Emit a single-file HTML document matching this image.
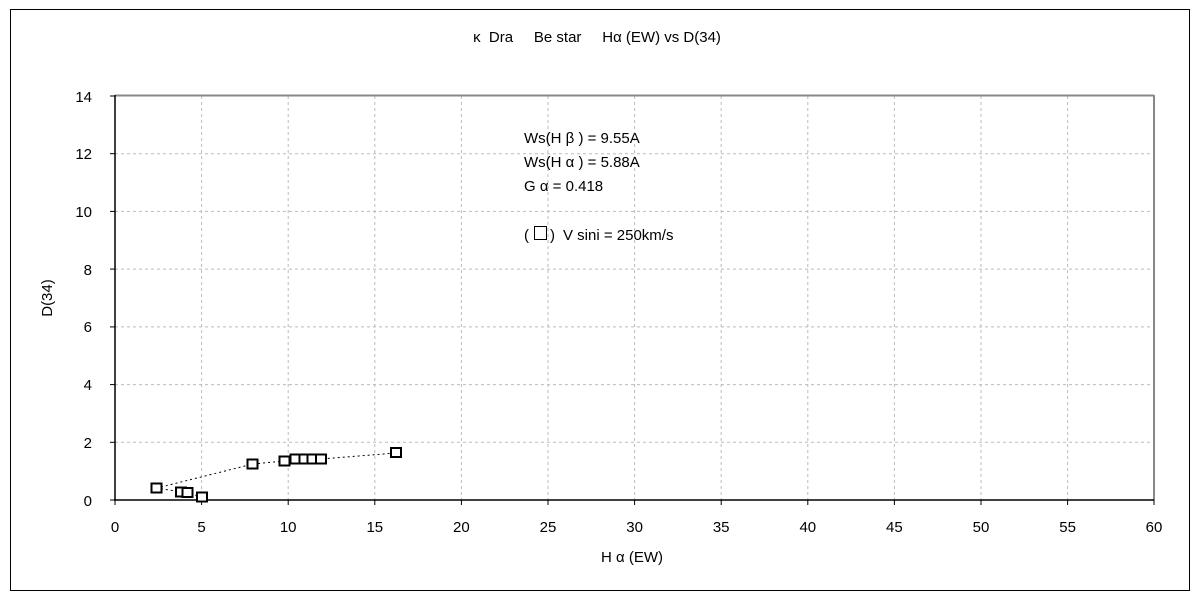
<!DOCTYPE html>
<html><head><meta charset="utf-8"><style>
html,body{margin:0;padding:0;background:#fff;}
svg{display:block;font-family:"Liberation Sans","Noto Sans CJK JP",sans-serif;}
text{white-space:pre;}
</style></head><body>
<svg width="1200" height="600" xmlns="http://www.w3.org/2000/svg">
<rect x="10.5" y="9.5" width="1179" height="581" fill="#fff" stroke="#000" stroke-width="1"/>
<text x="597" y="42" font-size="15" text-anchor="middle" fill="#000" xml:space="preserve">κ  Dra     Be star     Hα (EW) vs D(34)</text>
<g stroke="#bbb" stroke-width="1" stroke-dasharray="3,3">
<line x1="201.6" y1="96" x2="201.6" y2="500"/><line x1="288.2" y1="96" x2="288.2" y2="500"/>
<line x1="374.8" y1="96" x2="374.8" y2="500"/><line x1="461.4" y1="96" x2="461.4" y2="500"/>
<line x1="548" y1="96" x2="548" y2="500"/><line x1="634.6" y1="96" x2="634.6" y2="500"/>
<line x1="721.2" y1="96" x2="721.2" y2="500"/><line x1="807.8" y1="96" x2="807.8" y2="500"/>
<line x1="894.4" y1="96" x2="894.4" y2="500"/><line x1="981" y1="96" x2="981" y2="500"/>
<line x1="1067.6" y1="96" x2="1067.6" y2="500"/>
<line x1="115" y1="442.3" x2="1154" y2="442.3"/><line x1="115" y1="384.6" x2="1154" y2="384.6"/>
<line x1="115" y1="326.9" x2="1154" y2="326.9"/><line x1="115" y1="269.1" x2="1154" y2="269.1"/>
<line x1="115" y1="211.4" x2="1154" y2="211.4"/><line x1="115" y1="153.7" x2="1154" y2="153.7"/>
</g>
<line x1="115" y1="95.5" x2="1154" y2="95.5" stroke="#888" stroke-width="2"/>
<line x1="1154" y1="95" x2="1154" y2="500" stroke="#888" stroke-width="2"/>
<line x1="115" y1="95" x2="115" y2="501" stroke="#000" stroke-width="1.5"/>
<line x1="114" y1="500" x2="1154" y2="500" stroke="#000" stroke-width="1.5"/>
<g stroke="#000" stroke-width="1">
<line x1="110" y1="96" x2="115" y2="96"/><line x1="110" y1="153.7" x2="115" y2="153.7"/>
<line x1="110" y1="211.4" x2="115" y2="211.4"/><line x1="110" y1="269.1" x2="115" y2="269.1"/>
<line x1="110" y1="326.9" x2="115" y2="326.9"/><line x1="110" y1="384.6" x2="115" y2="384.6"/>
<line x1="110" y1="442.3" x2="115" y2="442.3"/><line x1="110" y1="500" x2="115" y2="500"/>
<line x1="115" y1="500" x2="115" y2="505"/><line x1="201.6" y1="500" x2="201.6" y2="505"/>
<line x1="288.2" y1="500" x2="288.2" y2="505"/><line x1="374.8" y1="500" x2="374.8" y2="505"/>
<line x1="461.4" y1="500" x2="461.4" y2="505"/><line x1="548" y1="500" x2="548" y2="505"/>
<line x1="634.6" y1="500" x2="634.6" y2="505"/><line x1="721.2" y1="500" x2="721.2" y2="505"/>
<line x1="807.8" y1="500" x2="807.8" y2="505"/><line x1="894.4" y1="500" x2="894.4" y2="505"/>
<line x1="981" y1="500" x2="981" y2="505"/><line x1="1067.6" y1="500" x2="1067.6" y2="505"/>
<line x1="1154" y1="500" x2="1154" y2="505"/>
</g>
<g font-size="15" text-anchor="end" fill="#000">
<text x="92" y="102">14</text><text x="92" y="159">12</text><text x="92" y="217">10</text>
<text x="92" y="275">8</text><text x="92" y="332">6</text><text x="92" y="390">4</text>
<text x="92" y="448">2</text><text x="92" y="506">0</text>
</g>
<g font-size="15" text-anchor="middle" fill="#000">
<text x="115" y="532">0</text><text x="201.6" y="532">5</text><text x="288.2" y="532">10</text>
<text x="374.8" y="532">15</text><text x="461.4" y="532">20</text><text x="548" y="532">25</text>
<text x="634.6" y="532">30</text><text x="721.2" y="532">35</text><text x="807.8" y="532">40</text>
<text x="894.4" y="532">45</text><text x="981" y="532">50</text><text x="1067.6" y="532">55</text>
<text x="1154" y="532">60</text>
<text x="632" y="562" xml:space="preserve">H α (EW)</text>
</g>
<text x="52" y="298" font-size="15" text-anchor="middle" transform="rotate(-90 52 298)">D(34)</text>
<g font-size="15" fill="#000" xml:space="preserve">
<text x="524" y="143">Ws(H β ) = 9.55A</text>
<text x="524" y="167">Ws(H α ) = 5.88A</text>
<text x="524" y="191">G α = 0.418</text>
<text x="524" y="240">(</text>
<text x="550" y="240">)</text>
<text x="563" y="240">V sini = 250km/s</text>
</g>
<rect x="534.5" y="226.5" width="12" height="13" fill="none" stroke="#000" stroke-width="1"/>
<polyline fill="none" stroke="#000" stroke-width="1" stroke-dasharray="2,3" points="202,497 187,493 181,492 157,488 253,464 284,461 295,459 304,459 313,459 321,459 396,453"/>
<g fill="#fff" stroke="#000" stroke-width="2">
<rect x="151.5" y="483.5" width="10" height="9"/>
<rect x="176" y="487.5" width="10" height="9"/>
<rect x="182.5" y="488" width="10" height="9"/>
<rect x="197" y="492.5" width="10" height="9"/>
<rect x="247.5" y="459.5" width="10" height="9"/>
<rect x="279.5" y="456.5" width="10" height="9"/>
<rect x="290.5" y="454.5" width="10" height="9"/>
<rect x="299.5" y="454.5" width="10" height="9"/>
<rect x="307.5" y="454.5" width="10" height="9"/>
<rect x="316" y="454.5" width="10" height="9"/>
<rect x="391" y="448" width="10" height="9"/>
</g>
</svg>
</body></html>
